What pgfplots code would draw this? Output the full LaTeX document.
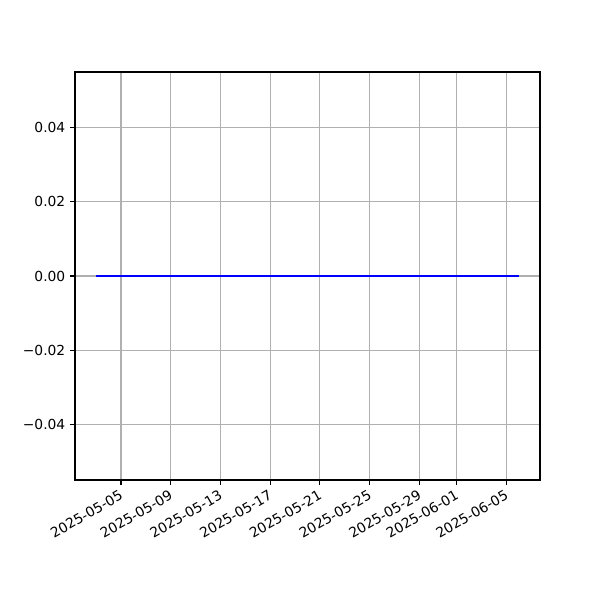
\documentclass[border=0pt]{standalone}
\usepackage{pgfplots}
\pgfplotsset{compat=1.18}
\usepackage{fontspec}
\setmainfont{DejaVu Sans}
\begin{document}
\begin{tikzpicture}
\path (-0.75in,-1.2in) rectangle (5.25in,4.8in);
\begin{axis}[
  at={(0,0)}, anchor=south west,
  scale only axis, width=4.65in, height=4.08in,
  xmin=-1.7, xmax=35.7, ymin=-0.055, ymax=0.055,
  scaled y ticks=false,
  axis line style={line width=0.8pt},
  every tick/.style={black, line width=0.8pt},
  tick align=outside, major tick length=3.5pt,
  xtick pos=bottom, ytick pos=left,
  grid=major, major grid style={color=black!31, line width=0.8pt},
  xtick={2,6,10,14,18,22,26,29,33},
  xticklabels={2025-05-05,2025-05-09,2025-05-13,2025-05-17,2025-05-21,2025-05-25,2025-05-29,2025-06-01,2025-06-05},
  xticklabel style={rotate=30, anchor=north east, font=\fontsize{10}{12}\selectfont, inner sep=1pt, yshift=-1pt, xshift=-2pt},
  ytick={-0.04,-0.02,0,0.02,0.04},
  yticklabels={−0.04,−0.02,0.00,0.02,0.04},
  yticklabel style={font=\fontsize{10}{12}\selectfont},
  /pgf/number format/assume math mode=true,
]
\addplot[blue, line width=1.5pt] coordinates {
(0,0)(1,0)(2,0)(3,0)(4,0)(5,0)(6,0)(7,0)(8,0)(9,0)
(10,0)(11,0)(12,0)(13,0)(14,0)(15,0)(16,0)(17,0)(18,0)(19,0)
(20,0)(21,0)(22,0)(23,0)(24,0)(25,0)(26,0)(27,0)(28,0)(29,0)
(30,0)(31,0)(32,0)(33,0)(34,0)
};
\end{axis}
\end{tikzpicture}
\end{document}
